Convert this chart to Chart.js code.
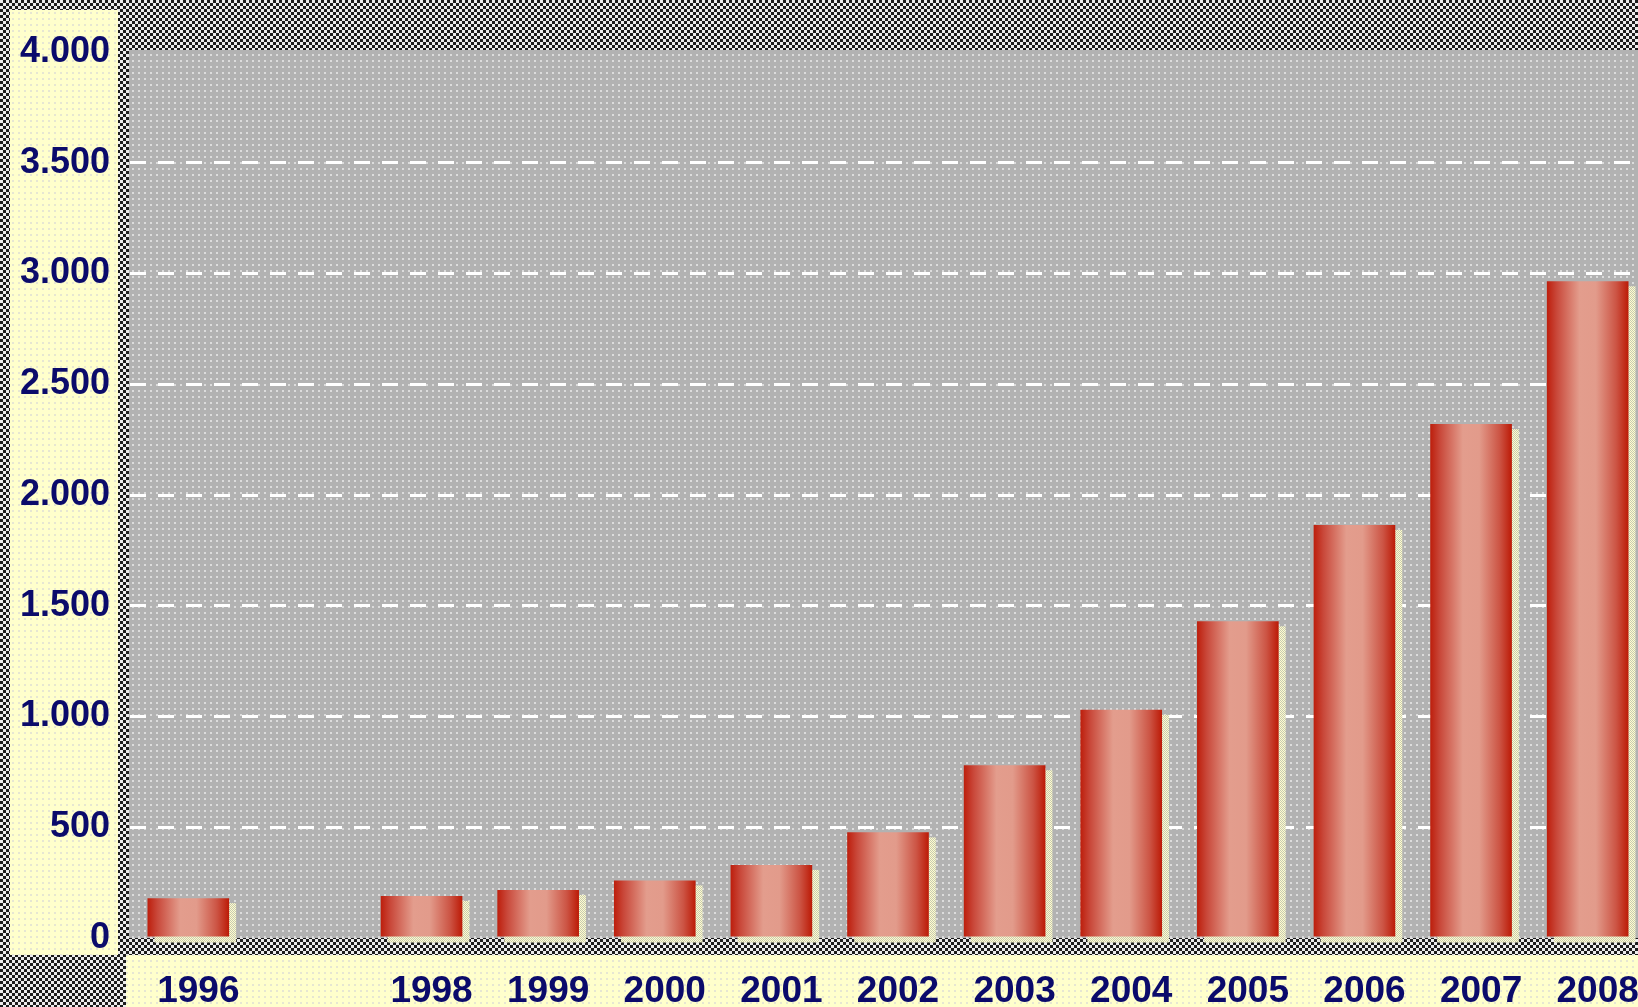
<!DOCTYPE html>
<html>
<head>
<meta charset="utf-8">
<script src="https://cdn.jsdelivr.net/npm/chart.js@4.4.1/dist/chart.umd.min.js"></script>
<style>
  html, body { margin: 0; padding: 0; overflow: hidden; width: 1638px; height: 1007px; }
  body {
    background-color: #888;
    background-image: repeating-conic-gradient(#1c1c1c 0 25%, #ececec 0 50%);
    background-size: 6px 6px;
  }
  #wrap { position: absolute; left: 0; top: 0; width: 1660px; height: 1007px; }
</style>
</head>
<body>
<div id="wrap"><canvas id="myChart"></canvas></div>
<script>
// data (1997 has no bar and no label)
const years = ['1996', '', '1998', '1999', '2000', '2001', '2002', '2003', '2004', '2005', '2006', '2007', '2008'];
const values = [180, null, 190, 217, 260, 330, 477, 780, 1030, 1430, 1865, 2320, 2965];
const yTicks = [0, 500, 1000, 1500, 2000, 2500, 3000, 3500, 4000];

const navy = '#0b0b6b';
const fontFamily = "'Liberation Sans', Arial, sans-serif";

const fmt = n => String(n).replace(/\B(?=(\d{3})+(?!\d))/g, '.');

function makePattern(base, dot, size, dotSize) {
  const c = document.createElement('canvas');
  c.width = c.height = size;
  const g = c.getContext('2d');
  g.fillStyle = base;
  g.fillRect(0, 0, size, size);
  g.fillStyle = dot;
  g.fillRect(0, 0, dotSize, dotSize);
  if (dotSize * 2 === size) g.fillRect(dotSize, dotSize, dotSize, dotSize);
  return g.createPattern(c, 'repeat');
}

// panels and plot background
const panels = {
  id: 'panels',
  beforeDraw(chart) {
    const { ctx, chartArea: a } = chart;
    ctx.save();
    ctx.fillStyle = makePattern('#ffffcc', '#e6e6d2', 6, 2);
    ctx.fillRect(10, 10, a.left - 22, 945);
    ctx.fillRect(a.left - 4, 955, chart.width, 60);
    ctx.fillStyle = makePattern('#b2b2b2', '#dcdcdc', 6, 2);
    ctx.fillRect(a.left - 1, a.top - 2, a.right - a.left + 1, a.bottom - a.top + 2);
    ctx.restore();
  }
};

// pale yellow drop shadow behind each bar
const barShadow = {
  id: 'barShadow',
  beforeDatasetsDraw(chart) {
    const { ctx } = chart;
    ctx.save();
    ctx.fillStyle = makePattern('#ffffcc', '#c8c8b4', 2, 1);
    chart.getDatasetMeta(0).data.forEach((el, i) => {
      if (values[i] == null) return;
      ctx.fillRect(el.x - el.width / 2 + 7, el.y + 5, el.width, el.base - el.y + 1);
    });
    ctx.restore();
  }
};

function barGradient(context) {
  const chart = context.chart;
  const xs = chart.scales.x;
  if (context.type !== 'data' || !xs) return '#c0200e';
  const cx = xs.getPixelForValue(context.dataIndex);
  const w = xs.width / years.length * 0.7;
  if (!isFinite(cx) || !isFinite(w) || w <= 0) return '#c0200e';
  const g = chart.ctx.createLinearGradient(cx - w / 2, 0, cx + w / 2, 0);
  g.addColorStop(0, '#bd1e0c');
  g.addColorStop(0.12, '#c9483a');
  g.addColorStop(0.4, '#e39d8d');
  g.addColorStop(0.6, '#e29b8b');
  g.addColorStop(0.85, '#cc5444');
  g.addColorStop(1, '#bc1a06');
  return g;
}

new Chart('myChart', {
  type: 'bar',
  data: {
    labels: years,
    datasets: [{
      data: values,
      backgroundColor: barGradient,
      borderWidth: 0,
      barPercentage: 0.7,
      categoryPercentage: 1
    }]
  },
  options: {
    responsive: true,
    maintainAspectRatio: false,
    animation: false,
    layout: { padding: { top: 52, right: 14, left: 0, bottom: 0 } },
    plugins: { legend: { display: false }, tooltip: { enabled: false } },
    scales: {
      x: {
        afterFit: s => { s.height = 69; },
        grid: { display: false },
        border: { display: false },
        ticks: {
          autoSkip: false,
          maxRotation: 0,
          padding: 24,
          labelOffset: 10,
          color: navy,
          font: { family: fontFamily, size: 37, weight: 'bold' }
        }
      },
      y: {
        min: yTicks[0],
        max: yTicks[yTicks.length - 1],
        afterFit: s => { s.width = 130; },
        afterBuildTicks: s => { s.ticks = yTicks.map(v => ({ value: v })); },
        grid: {
          drawTicks: false,
          lineWidth: 3,
          color: c => (c.tick && c.tick.value > yTicks[0] && c.tick.value < yTicks[yTicks.length - 1]) ? '#ffffff' : 'rgba(0,0,0,0)'
        },
        border: { display: false, dash: [16, 12] },
        ticks: {
          padding: 20,
          color: navy,
          font: { family: fontFamily, size: 36, weight: 'bold' },
          callback: v => fmt(v)
        }
      }
    }
  },
  plugins: [panels, barShadow]
});
</script>
</body>
</html>
